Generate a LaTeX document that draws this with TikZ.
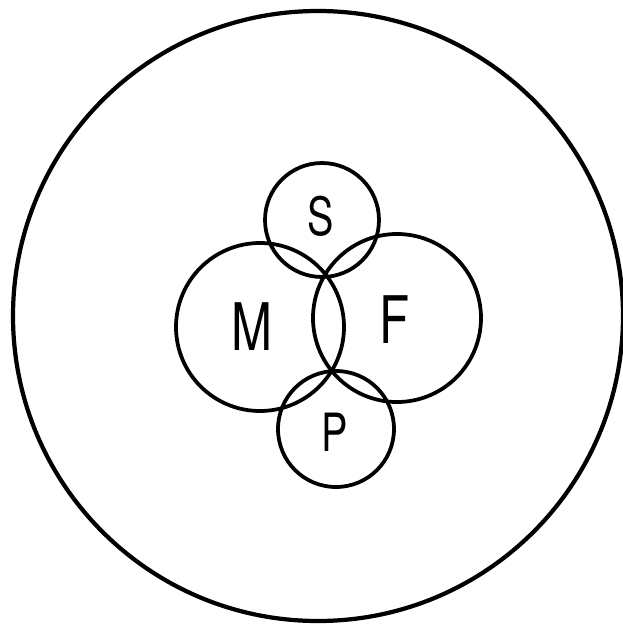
\documentclass[tikz,border=0pt]{standalone}
\usepackage{fontspec}
\setsansfont{TeX Gyre Heros}
\usetikzlibrary{positioning}

\begin{document}
\begin{tikzpicture}[x=0.03cm,y=-0.03cm,
  ring/.style={line width=3.2pt, black},
  letter/.style={font=\sffamily\fontsize{45}{50}\selectfont, inner sep=0pt, xscale=0.75},
  bigletter/.style={letter, font=\sffamily\fontsize{56}{60}\selectfont}]
\useasboundingbox (0,0) rectangle (623,631);
% centres of the circles
\coordinate (cO) at (318,316);
\coordinate (cS) at (322,220);
\coordinate (cM) at (260,327);
\coordinate (cF) at (397,318);
\coordinate (cP) at (336,429);
\draw[ring, line width=3.6pt] (cO) circle[radius=305];
\draw[ring] (cS) circle[radius=57];
\draw[ring] (cM) circle[radius=84];
\draw[ring] (cF) circle[radius=84];
\draw[ring] (cP) circle[radius=58];
% labels
\node[letter] (S) at (321,216) {S};
\node[bigletter] (M) at (252,327) {M};
\node[bigletter] (F) at (395,320) {F};
\node[letter] (P) at (335,432) {P};
\end{tikzpicture}
\end{document}
